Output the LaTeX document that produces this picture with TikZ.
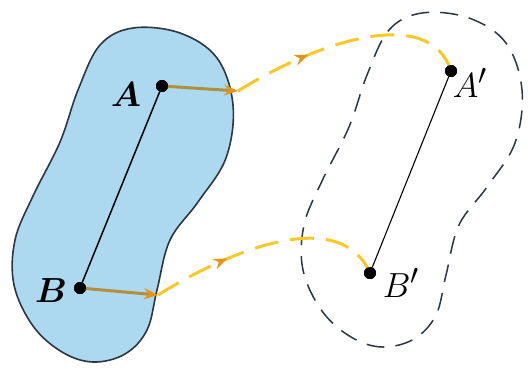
\documentclass[tikz,border=0pt]{standalone}
\usepackage{bm}
\usetikzlibrary{arrows.meta,decorations.markings}
\definecolor{bodyblue}{RGB}{172,216,240}
\definecolor{bodyline}{RGB}{45,55,65}
\definecolor{pathyellow}{RGB}{248,200,40}
\definecolor{pathorange}{RGB}{225,150,25}
\definecolor{pathinner}{RGB}{175,145,60}
\newcommand{\bodyshape}{plot[smooth cycle,tension=0.6] coordinates {(133,28) (180,33) (217,58) (233,105) (226,158) (198,202) (170,240) (157,290) (147,330) (125,354) (93,362) (62,352) (33,326) (14,285) (15,240) (33,196) (60,142) (78,90) (100,45)}}

\begin{document}
\begin{tikzpicture}[x=1pt,y=-1pt,>={Stealth[round]},
  font=\Huge,
  dot/.style={circle,fill=black,inner sep=0pt,minimum size=12pt},
  lab/.style={inner sep=1pt,scale=1.4},
  body/.style={fill=bodyblue,draw=bodyline,line width=1.6pt},
  ghost/.style={draw=bodyline,line width=1.5pt,dash pattern=on 18pt off 11pt},
  track/.style={pathyellow,line width=3pt,dash pattern=on 24pt off 12pt},
  inner/.style={pathinner,line width=3pt},
  tip/.style={-{Stealth[length=14pt,width=11pt,pathorange]}},
  midarr/.style={postaction={decorate,decoration={markings,
     mark=at position #1 with {\arrow{Stealth[length=14pt,width=11pt,pathorange]}}}}}]

  \useasboundingbox (0,0) rectangle (530,368);

  % ==========================================
  % BODY BEFORE AND AFTER
  % ==========================================
  \draw[body] \bodyshape;
  \draw[ghost,shift={(289,-15)}] \bodyshape;

  % points
  \node[dot] (A) at (162,86) {};
  \node[dot] (B) at (80,288) {};
  \node[dot] (A') at (451,71) {};
  \node[dot] (B') at (370,273) {};

  % ==========================================
  % DISPLACEMENT PATHS
  % ==========================================
  \coordinate (kinkA) at (238,91);
  \coordinate (kinkB) at (158,295);

  \draw[inner,tip] (A.center) -- (kinkA);
  \draw[track,midarr=0.33] (kinkA) .. controls (320,40) and (430,5) .. (A'.center);

  \draw[inner,tip] (B.center) -- (kinkB);
  \draw[track,midarr=0.33] (kinkB) .. controls (230,250) and (340,205) .. (B'.center);

  % segments drawn on top
  \draw[line width=1.5pt] (A) -- (B);
  \draw[line width=1.1pt] (A') -- (B');
  \foreach \p in {A,B,A',B'} \fill (\p) circle (6pt);

  % labels
  \node[lab] (labA) at (126,95) {$\bm{A}$};
  \node[lab] (labB) at (51,291) {$\bm{B}$};
  \node[lab] (labA') at (470,83) {$A'$};
  \node[lab] (labB') at (401,283) {$B'$};
\end{tikzpicture}
\end{document}
